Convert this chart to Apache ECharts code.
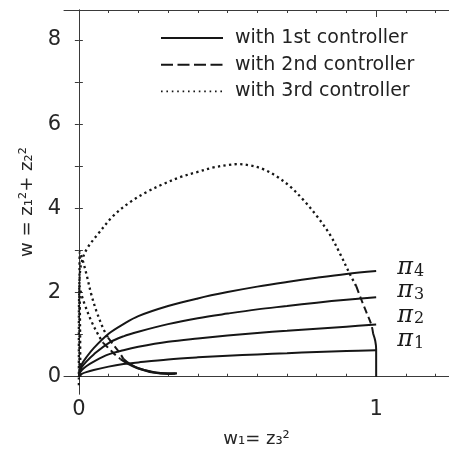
<!DOCTYPE html>
<html><head><meta charset="utf-8">
<script src="https://cdn.jsdelivr.net/npm/echarts@6/dist/echarts.min.js"></script>
<style>html,body{margin:0;padding:0;background:#fff}#c{width:449px;height:453px}</style>
</head><body><div id="c"></div>
<script>
// ---- data ----
const piX  = [0, 0.002, 0.01, 0.025, 0.05, 0.1, 0.15, 0.2, 0.3, 0.4, 0.5, 0.6, 0.7, 0.8, 0.9, 1.0];
const pi1Y = [0, 0.03, 0.07, 0.11, 0.16, 0.24, 0.30, 0.34, 0.41, 0.46, 0.50, 0.53, 0.56, 0.59, 0.61, 0.63];
const pi2Y = [0, 0.07, 0.16, 0.25, 0.36, 0.53, 0.63, 0.71, 0.83, 0.91, 0.98, 1.04, 1.09, 1.14, 1.19, 1.24];
const pi3Y = [0, 0.10, 0.23, 0.36, 0.53, 0.80, 0.96, 1.07, 1.25, 1.39, 1.50, 1.60, 1.68, 1.76, 1.83, 1.89];
const pi4Y = [0, 0.13, 0.30, 0.46, 0.68, 1.02, 1.25, 1.44, 1.68, 1.86, 2.01, 2.14, 2.25, 2.35, 2.44, 2.51];
const piNames = ['1', '2', '3', '4'];

// 1st controller (solid) extra pieces
const edgeX = [0.99, 0.997, 1.0, 1.0];
const edgeY = [1.02, 0.85, 0.65, 0.0];
const tailAX = [0.15, 0.17, 0.20, 0.25, 0.30, 0.33];
const tailAY = [0.42, 0.31, 0.20, 0.11, 0.08, 0.08];
const tailBX = [0.14, 0.165, 0.195, 0.25, 0.30, 0.325];
const tailBY = [0.42, 0.31, 0.21, 0.10, 0.07, 0.075];

// 2nd controller (dashed)
const dashAX = [0.098, 0.115, 0.137, 0.15];
const dashAY = [0.93, 0.77, 0.57, 0.42];
const dashBX = [0.081, 0.104, 0.121, 0.14];
const dashBY = [0.81, 0.65, 0.53, 0.42];
const dashRX = [0.933, 0.948, 0.966, 0.984, 0.99];
const dashRY = [2.15, 1.87, 1.55, 1.23, 1.02];

// 3rd controller (dotted)
const arcX = [0.0, 0.0, 0.001, 0.004, 0.011, 0.028, 0.061, 0.117, 0.173, 0.229, 0.285, 0.341, 0.397, 0.453, 0.505, 0.535, 0.575, 0.62, 0.665, 0.71, 0.755, 0.80, 0.845, 0.88, 0.91, 0.933];
const arcY = [-0.2, 1.0, 2.0, 2.5, 2.77, 3.05, 3.36, 3.83, 4.15, 4.39, 4.58, 4.74, 4.86, 4.97, 5.03, 5.05, 5.02, 4.93, 4.76, 4.52, 4.20, 3.82, 3.37, 2.90, 2.46, 2.15];
const dotAX = [0.002, 0.002, 0.003, 0.014, 0.026, 0.042, 0.059, 0.081, 0.098];
const dotAY = [0.0, 1.5, 2.97, 2.74, 2.42, 1.95, 1.56, 1.16, 0.93];
const dotBX = [0.005, 0.004, 0.002, 0.01, 0.02, 0.042, 0.065, 0.081];
const dotBY = [0.0, 1.2, 2.15, 1.92, 1.71, 1.32, 1.0, 0.81];

const xMajor = [0, 1];
const xMinor = [0.1, 0.2, 0.3, 0.4, 0.5, 0.6, 0.7, 0.8, 0.9, 1.1, 1.2];
const yTicks = [0, 1, 2, 3, 4, 5, 6, 7, 8];
const yLabels = [0, 2, 4, 6, 8];
const legendNames = ['with 1st controller', 'with 2nd controller', 'with 3rd controller'];

// ---- helpers ----
const zip = (xs, ys) => xs.map((x, i) => [x, ys[i]]);
const INK = '#161616';
const AX = '#3a3a3a';
const SANS = 'DejaVu Sans';

function lineSeries(name, xs, ys, type, width, extra) {
  return Object.assign({
    type: 'line', name: name, data: zip(xs, ys), symbol: 'none', symbolSize: 0,
    smooth: 0.35,
    lineStyle: { color: INK, width: width, type: type },
    itemStyle: { color: INK }, z: 3
  }, extra || {});
}

const piOffsets = [-10, -9.2, -6.8, -3.7];
const piSeries = [pi1Y, pi2Y, pi3Y, pi4Y].map((ys, i) => lineSeries(legendNames[0], piX, ys, 'solid', 2, {
  endLabel: {
    show: true, distance: 0, offset: [21, piOffsets[i]],
    formatter: '{p|π}{s|' + piNames[i] + '}',
    rich: {
      p: { fontFamily: 'DejaVu Serif', fontStyle: 'italic', fontSize: 24, color: '#1a1a1a', lineHeight: 24, verticalAlign: 'top' },
      s: { fontFamily: 'DejaVu Serif', fontSize: 16, color: '#1a1a1a', lineHeight: 16, padding: [10, 0, 0, 1], verticalAlign: 'bottom' }
    }
  }
}));

const DOT = [2.3, 3.3];
const series = [
  ...piSeries,
  lineSeries(legendNames[0], edgeX, edgeY, 'solid', 2),
  lineSeries(legendNames[0], tailAX, tailAY, 'solid', 2.2),
  lineSeries(legendNames[0], tailBX, tailBY, 'solid', 2.2),
  lineSeries(legendNames[1], dashAX, dashAY, [7, 4], 2),
  lineSeries(legendNames[1], dashBX, dashBY, [7, 4], 2),
  lineSeries(legendNames[1], dashRX, dashRY, [7, 4], 2),
  lineSeries(legendNames[2], arcX, arcY, DOT, 2.3),
  lineSeries(legendNames[2], dotAX, dotAY, DOT, 2.3),
  lineSeries(legendNames[2], dotBX, dotBY, DOT, 2.3)
];

const axLine = { show: true, lineStyle: { color: AX, width: 1 } };
const noLine = { show: false };
const tick = (vals, len) => ({ show: true, inside: true, length: len, customValues: vals, lineStyle: { color: AX, width: 1 } });
const labelStyle = { fontFamily: SANS, fontSize: 21, color: '#262626' };

const X0 = -0.05, X1 = 1.245, Y0 = -0.41, Y1 = 8.71;
const xBase = { type: 'value', min: X0, max: X1, splitLine: { show: false } };
const yBase = { type: 'value', min: Y0, max: Y1, splitLine: { show: false } };

const option = {
  animation: false,
  backgroundColor: '#fff',
  grid: { left: 64, top: 10, width: 386.3, height: 386.7, containLabel: false },
  legend: {
    orient: 'vertical', left: 155, top: 23, itemWidth: 62, itemHeight: 14, itemGap: 6.7,
    selectedMode: false,
    itemStyle: { opacity: 0 },
    data: [
      { name: legendNames[0] },
      { name: legendNames[1], lineStyle: { type: [12, 4.5], width: 2 } },
      { name: legendNames[2], lineStyle: { type: [1.6, 3.8], width: 1.7 } }
    ],
    textStyle: { fontFamily: SANS, fontSize: 19, color: '#222', lineHeight: 20, padding: [0, 0, 0, 7] }
  },
  xAxis: [
    Object.assign({}, xBase, {
      position: 'bottom', axisLine: axLine, axisTick: tick(xMajor, 7),
      axisLabel: { show: true, customValues: xMajor, margin: 5, ...labelStyle },
      name: 'w₁= z₃²', nameLocation: 'middle', nameGap: 36,
      nameTextStyle: { fontFamily: SANS, fontSize: 18, color: '#262626' }
    }),
    Object.assign({}, xBase, { position: 'bottom', axisLine: noLine, axisTick: tick(xMinor, 3), axisLabel: { show: false } }),
    Object.assign({}, xBase, { position: 'top', axisLine: axLine, axisTick: tick(xMajor, 7), axisLabel: { show: false } }),
    Object.assign({}, xBase, { position: 'top', axisLine: noLine, axisTick: tick(xMinor, 3), axisLabel: { show: false } })
  ],
  yAxis: [
    Object.assign({}, yBase, {
      position: 'left', axisLine: axLine, axisTick: tick(yTicks, 4),
      axisLabel: { show: true, customValues: yLabels, margin: 3, ...labelStyle },
      name: 'w = z₁²+ z₂²', nameLocation: 'middle', nameGap: 24,
      nameTextStyle: { fontFamily: SANS, fontSize: 18, color: '#262626' }
    }),
    Object.assign({}, yBase, { position: 'right', axisLine: axLine, axisTick: tick(yTicks, 4), axisLabel: { show: false } })
  ],
  series: series
};

const chart = echarts.init(document.getElementById('c'), null, { renderer: 'canvas' });
chart.setOption(option);
</script>
</body></html>
